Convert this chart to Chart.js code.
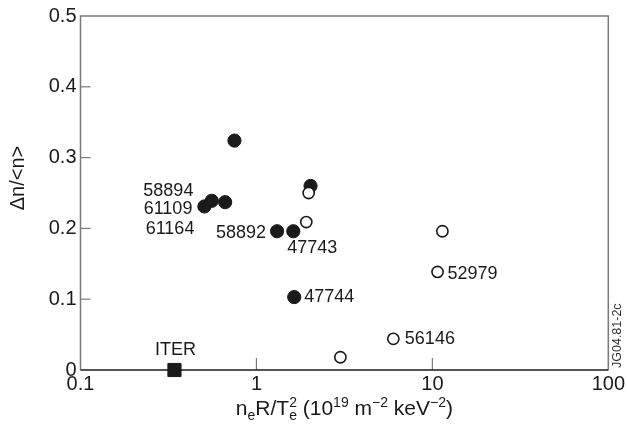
<!DOCTYPE html>
<html>
<head>
<meta charset="utf-8">
<script src="https://cdn.jsdelivr.net/npm/chart.js@4.4.0/dist/chart.umd.min.js"></script>
<style>
  html, body { margin: 0; padding: 0; background: #fff; }
  #wrap { width: 627px; height: 425px; }
</style>
</head>
<body>
<div id="wrap"><canvas id="myChart" width="627" height="425"></canvas></div>
<script>
// filled circles
const filledX = [0.75, 0.506, 0.557, 0.664, 1.31, 1.62, 2.03, 1.64];
const filledY = [0.324, 0.231, 0.239, 0.237, 0.196, 0.196, 0.26, 0.103];
// open circles
const openX = [1.98, 1.92, 11.4, 10.7, 6.0, 3.0];
const openY = [0.25, 0.209, 0.196, 0.1385, 0.044, 0.018];
// ITER
const iterX = [0.342];
const iterY = [0];

const xTicks = [0.1, 1, 10, 100];
const yTicks = [0, 0.1, 0.2, 0.3, 0.4, 0.5];

const shotLabels = ['58894', '61109', '61164', '58892', '47743', '47744', '52979', '56146', 'ITER'];

// where each label hangs relative to its point (pixels)
const labelPlacement = [
    { set: 1, i: 1, dx: -11, dy: -15.5, align: 'right' },
    { set: 1, i: 1, dx: -12, dy: 3, align: 'right' },
    { set: 1, i: 1, dx: -10, dy: 23, align: 'right' },
    { set: 1, i: 4, dx: -11, dy: 1.5, align: 'right' },
    { set: 1, i: 5, dx: -6, dy: 17, align: 'left' },
    { set: 1, i: 7, dx: 10, dy: 0, align: 'left' },
    { set: 0, i: 3, dx: 10, dy: 2, align: 'left' },
    { set: 0, i: 4, dx: 11.5, dy: 0, align: 'left' },
    { set: 2, i: 0, dx: 1, dy: -20, align: 'center' }
];

const FONT = '"Liberation Sans", Arial, Helvetica, sans-serif';
const INK = '#1a1a1a';
const AXIS_GREY = '#7a7a7a';

const pts = (xs, ys) => xs.map((x, i) => ({ x: x, y: ys[i] }));

const framePlugin = {
    id: 'frame',
    beforeDatasetsDraw(chart) {
        const { ctx, chartArea: a, scales } = chart;
        ctx.save();
        ctx.lineWidth = 1.5;
        ctx.strokeStyle = AXIS_GREY;
        ctx.beginPath();
        ctx.moveTo(a.left, a.bottom);
        ctx.lineTo(a.left, a.top);
        ctx.lineTo(a.right, a.top);
        ctx.lineTo(a.right, a.bottom);
        ctx.stroke();

        // inner ticks
        ctx.lineWidth = 1.2;
        yTicks.forEach(v => {
            if (v <= 0 || v >= 0.5) return;
            const y = scales.y.getPixelForValue(v);
            ctx.beginPath();
            ctx.moveTo(a.left, y);
            ctx.lineTo(a.left + 10, y);
            ctx.stroke();
        });
        xTicks.forEach(v => {
            if (v <= 0.1 || v >= 100) return;
            const x = scales.x.getPixelForValue(v);
            ctx.beginPath();
            ctx.moveTo(x, a.bottom);
            ctx.lineTo(x, a.bottom - 12);
            ctx.stroke();
        });

        ctx.strokeStyle = INK;
        ctx.lineWidth = 1.5;
        ctx.beginPath();
        ctx.moveTo(a.left, a.bottom);
        ctx.lineTo(a.right, a.bottom);
        ctx.stroke();
        ctx.restore();
    },
    afterDraw(chart) {
        const { ctx, chartArea: a } = chart;
        ctx.save();
        ctx.fillStyle = INK;

        // point labels
        ctx.font = '18px ' + FONT;
        ctx.textBaseline = 'middle';
        labelPlacement.forEach((p, k) => {
            const el = chart.getDatasetMeta(p.set).data[p.i];
            ctx.textAlign = p.align;
            ctx.fillText(shotLabels[k], el.x + p.dx, el.y + p.dy);
        });

        // y title
        ctx.save();
        ctx.translate(18, 178);
        ctx.rotate(-Math.PI / 2);
        ctx.textAlign = 'center';
        ctx.font = '20px ' + FONT;
        ctx.fillText('\u0394n/<n>', 0, 0);
        ctx.restore();

        // x title with sub/superscripts
        const big = '21px ' + FONT, small = '14px ' + FONT;
        const parts = [
            ['n', 0, big], ['e', 5, small], ['R/T', 0, big], ['e|2', 0, small],
            [' (10', 0, big], ['19', -8, small], [' m', 0, big], ['\u22122', -8, small],
            [' keV', 0, big], ['\u22122', -8, small], [')', 0, big]
        ];
        const widthOf = p => {
            ctx.font = p[2];
            if (p[0] === 'e|2') return Math.max(ctx.measureText('e').width, ctx.measureText('2').width);
            return ctx.measureText(p[0]).width;
        };
        const total = parts.reduce((s, p) => s + widthOf(p), 0);
        let x = (a.left + a.right) / 2 - total / 2;
        const base = 415;
        ctx.textAlign = 'left';
        ctx.textBaseline = 'alphabetic';
        parts.forEach(p => {
            const w = widthOf(p);
            ctx.font = p[2];
            if (p[0] === 'e|2') {
                ctx.fillText('e', x, base + 5);
                ctx.fillText('2', x, base - 8);
            } else {
                ctx.fillText(p[0], x, base + p[1]);
            }
            x += w;
        });

        // figure id
        ctx.save();
        ctx.translate(621, 368);
        ctx.rotate(-Math.PI / 2);
        ctx.font = '12.5px ' + FONT;
        ctx.fillStyle = '#333';
        ctx.textAlign = 'left';
        ctx.fillText('JG04.81-2c', 0, 0);
        ctx.restore();

        ctx.restore();
    }
};

const ctx = document.getElementById('myChart').getContext('2d');

new Chart(ctx, {
    type: 'scatter',
    data: {
        datasets: [
            {
                label: 'open',
                data: pts(openX, openY),
                pointRadius: 5.6,
                pointBorderWidth: 1.6,
                pointBackgroundColor: '#fff',
                pointBorderColor: INK,
                clip: false
            },
            {
                label: 'filled',
                data: pts(filledX, filledY),
                pointRadius: 6.6,
                pointBorderWidth: 1,
                pointBackgroundColor: INK,
                pointBorderColor: INK,
                clip: false
            },
            {
                label: 'ITER',
                data: pts(iterX, iterY),
                pointStyle: 'rect',
                pointRadius: 9.3,
                pointBorderWidth: 1,
                pointBackgroundColor: INK,
                pointBorderColor: INK,
                clip: false
            }
        ]
    },
    options: {
        responsive: false,
        animation: false,
        events: [],
        layout: { padding: { left: 0, right: 18, top: 15, bottom: 0 } },
        plugins: { legend: { display: false }, tooltip: { enabled: false } },
        scales: {
            x: {
                type: 'logarithmic',
                min: 0.1,
                max: 100,
                afterBuildTicks: s => { s.ticks = xTicks.map(v => ({ value: v })); },
                afterFit: s => { s.height = 55; },
                grid: { display: false, drawTicks: false },
                border: { display: false },
                ticks: {
                    autoSkip: false,
                    maxRotation: 0,
                    padding: 2,
                    color: INK,
                    font: { size: 20, family: FONT },
                    callback: v => String(v)
                }
            },
            y: {
                min: 0,
                max: 0.5,
                afterBuildTicks: s => { s.ticks = yTicks.map(v => ({ value: v })); },
                afterFit: s => { s.width = 80.5; },
                grid: { display: false, drawTicks: false },
                border: { display: false },
                ticks: {
                    padding: 4,
                    color: INK,
                    font: { size: 20, family: FONT },
                    callback: v => String(v)
                }
            }
        }
    },
    plugins: [framePlugin]
});
</script>
</body>
</html>
